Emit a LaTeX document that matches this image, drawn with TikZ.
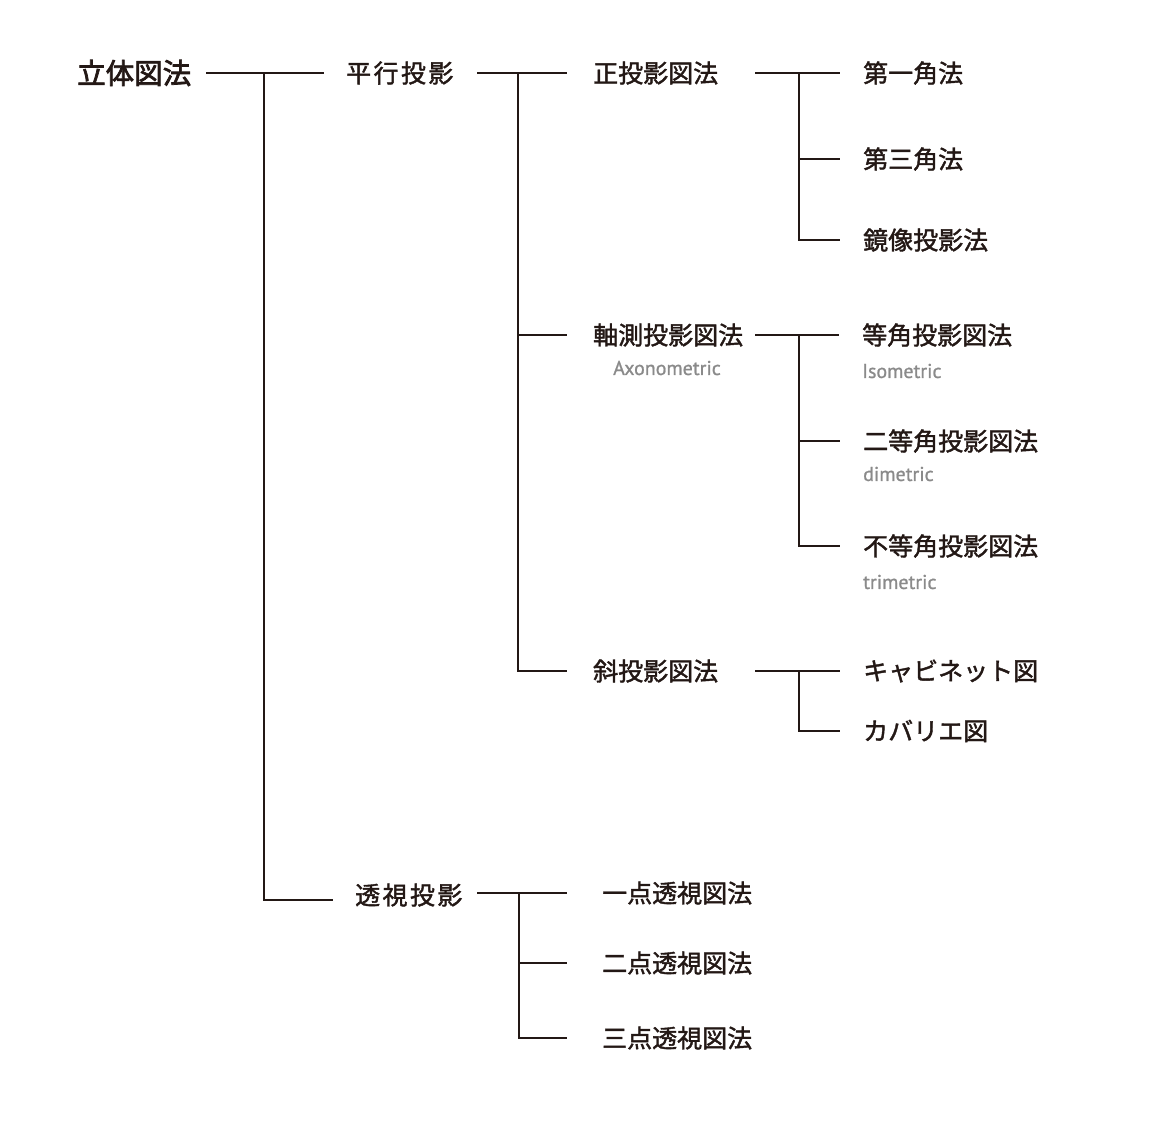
\documentclass[tikz,border=0pt]{standalone}
\usepackage{fontspec}
\usepackage{tikz}
\newfontfamily\jpfont{Noto Sans CJK JP}[BoldFont=Noto Sans CJK JP, BoldFeatures={FakeBold=1.6}]
\newfontfamily\jptopfont{Noto Sans CJK JP}[BoldFont=Noto Sans CJK JP, BoldFeatures={FakeBold=2.6}]
\newfontfamily\enfont{PT Sans}[BoldFont=PT Sans, BoldFeatures={FakeBold=1}]
\definecolor{ink}{HTML}{231815}
\definecolor{subgray}{HTML}{8A8A8A}
\tikzset{
	term/.style={anchor=west, inner sep=0pt, text=ink, font=\jpfont\bfseries\fontsize{25}{30}\selectfont},
	topterm/.style={term, font=\jptopfont\bfseries\fontsize{28.5}{34}\selectfont},
	note/.style={anchor=west, inner sep=0pt, text=subgray, font=\enfont\bfseries\fontsize{20}{23}\selectfont},
	branch/.style={draw=ink, line width=1.8pt},
}
\newcommand{\tracked}[4]{#1\kern2.4pt#2\kern2.4pt#3\kern2.4pt#4}

\begin{document}
\begin{tikzpicture}[x=1pt, y=-1pt]

\useasboundingbox (0,0) rectangle (1171,1122);

% terms
\node[topterm] (rittai) at (77,73) {立体図法};

\node[term] (heikou) at (346,73) {\tracked{平}{行}{投}{影}};
\node[term] (toushi) at (355,895) {\tracked{透}{視}{投}{影}};

\node[term] (seiei) at (593,73) {正投影図法};
\node[term] (jikusoku) at (593,335) {軸測投影図法};
\node[term] (sha) at (593,671) {斜投影図法};

\node[term] (daiichi) at (863,73) {第一角法};
\node[term] (daisan) at (863,159) {第三角法};
\node[term] (kyouzou) at (863,240) {鏡像投影法};

\node[term] (touka) at (862,335) {等角投影図法};
\node[term] (nitouka) at (863,441) {二等角投影図法};
\node[term] (futouka) at (863,546) {不等角投影図法};

\node[term] (cabinet) at (863,671) {キャビネット図};
\node[term] (cavalier) at (863,731) {カバリエ図};

\node[term] (itten) at (602,893) {一点透視図法};
\node[term] (niten) at (602,963) {二点透視図法};
\node[term] (santen) at (602,1038) {三点透視図法};

% english names
\node[note, anchor=center] (axono) at (667,368) {Axonometric};
\node[note] (iso) at (862,371) {Isometric};
\node[note] (dime) at (863,474) {dimetric};
\node[note] (trime) at (863,582) {trimetric};

% junctions
\coordinate (rittai-out) at (206,73);
\coordinate (rittai-j) at (264,73);
\coordinate (heikou-out) at (477,73);
\coordinate (heikou-j) at (518,73);
\coordinate (toushi-out) at (477,893);
\coordinate (toushi-j) at (519,893);
\coordinate (seiei-out) at (755,73);
\coordinate (seiei-j) at (799,73);
\coordinate (jikusoku-out) at (755,335);
\coordinate (jikusoku-j) at (799,335);
\coordinate (sha-out) at (755,671);
\coordinate (sha-j) at (799,671);

% tree
\draw[branch] (rittai-out) -- ([xshift=-22pt]heikou.west);
\draw[branch] (rittai-j) |- ([xshift=-22pt, yshift=-5pt]toushi.west);

\draw[branch] (heikou-out) -- (heikou-j);
\foreach \n in {seiei, jikusoku, sha}
	\draw[branch] (heikou-j) |- ([xshift=-26pt]\n.west);

\draw[branch] (toushi-out) -- (toushi-j);
\foreach \n in {itten, niten, santen}
	\draw[branch] (toushi-j) |- ([xshift=-35pt]\n.west);

\draw[branch] (seiei-out) -- (seiei-j);
\foreach \n in {daiichi, daisan, kyouzou}
	\draw[branch] (seiei-j) |- ([xshift=-23pt]\n.west);

\draw[branch] (jikusoku-out) -- (jikusoku-j);
\foreach \n in {touka, nitouka, futouka}
	\draw[branch] (jikusoku-j) |- ([xshift=-23pt]\n.west);

\draw[branch] (sha-out) -- (sha-j);
\foreach \n in {cabinet, cavalier}
	\draw[branch] (sha-j) |- ([xshift=-23pt]\n.west);

\end{tikzpicture}
\end{document}
